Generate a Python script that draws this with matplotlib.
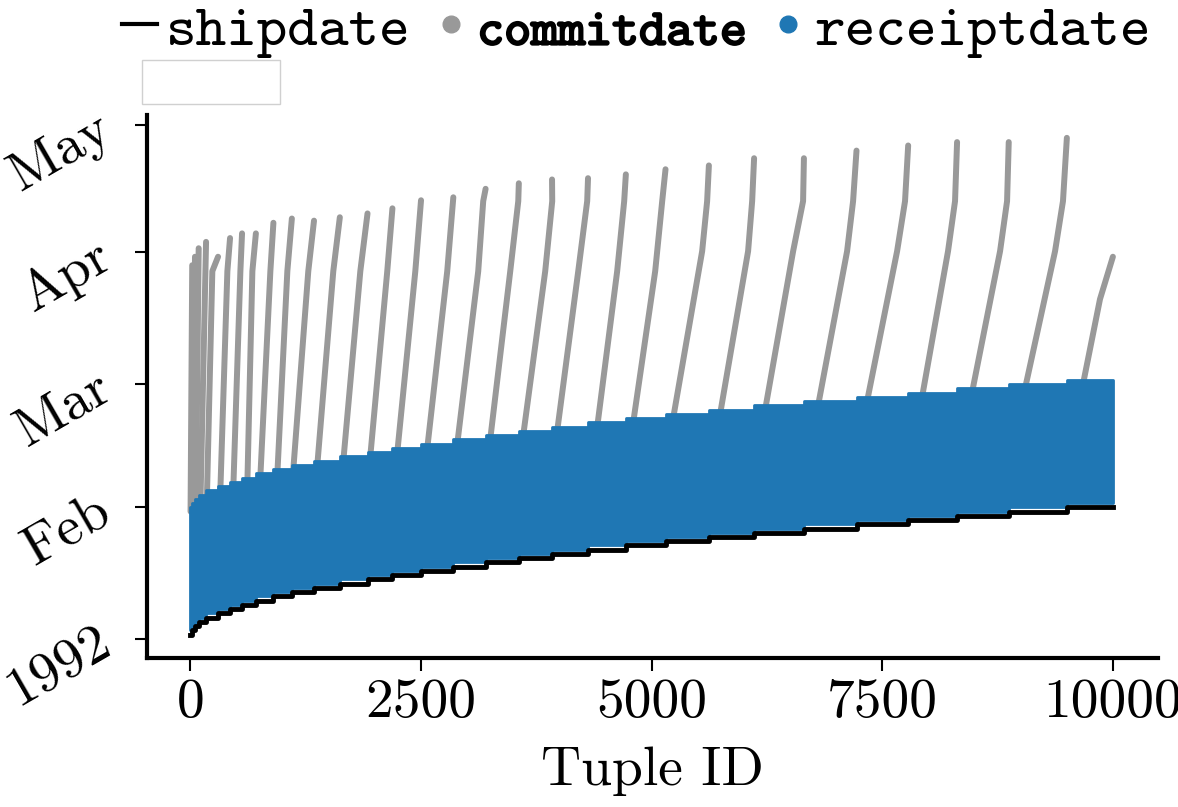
import numpy as np
import matplotlib
matplotlib.use('Agg')
import matplotlib.pyplot as plt
import matplotlib.dates as mdates
from matplotlib.lines import Line2D
from matplotlib.patches import Rectangle
from matplotlib import patheffects as pe

plt.rcParams['font.family'] = 'cmr10'
plt.rcParams['axes.formatter.use_mathtext'] = True
plt.rcParams['mathtext.fontset'] = 'cm'

# tuples are sorted by shipdate: first tuple id of every shipdate day
ship_start = [0, 20, 50, 90, 170, 300, 430, 560, 710, 900, 1100, 1340, 1620, 1920,
              2190, 2500, 2850, 3200, 3560, 3920, 4310, 4720, 5150, 5620, 6110,
              6650, 7220, 7780, 8310, 8870, 9500]
# shipdate of each block, in days after 1992-01-01
ship_day = [1, 2, 3, 4, 5, 6, 7, 8, 9, 10, 11, 12, 13, 14, 15, 16, 17, 18, 19, 20,
            21, 22, 23, 24, 25, 26, 27, 28, 29, 30, 31]
last_tuple = 9999

# receiptdate spread between shipdate+1 and shipdate+30
receipt_lo = 1
receipt_hi = 30

# commitdate streaks (one per shipdate block)
commit_blue_x = [2, 30, 60, 110, 180, 325, 466, 618, 758, 943, 1116, 1376, 1658,
                 1950, 2243, 2568, 2893, 3250, 3608, 3976, 4410, 4800, 5233, 5742,
                 6230, 6804, 7335, 7931, 8472, 9047, 9675]
commit_mid_x = [np.nan, np.nan, np.nan, np.nan, 238, 401, 542, 672, 867, 1051, 1278,
                1549, 1842, 2134, 2438, 2784, 3120, 3467, 3846, 4204, 4626, 5038,
                5547, 6045, 6533, 7118, 7660, 8212, 8776, 9372, 9859]
commit_mid_day = [86.6] * 22 + [91.3] * 8 + [80]
commit_knee_x = [np.nan] * 16 + [3174, 3554, 3922, 4301, 4702, 5114, 5601, 6089,
                                 6641, 7183, 7746, 8288, 8852, 9458, np.nan]
commit_knee_day = 103.1
commit_top_day = [88, 90, 92, 93.5, 90, 94.4, 95.5, 95.5, 98, 99, 98.5, 99.3, 100.2,
                  101.4, 103.3, 104, 106, 107.3, 108.2, 108.5, 109.4, 110.6, 111.5,
                  113.2, 113.2, 115, 116.2, 117, 117, 118, 90]

tuple_ticks = [0, 2500, 5000, 7500, 10000]
month_ticks = ['1992-01-01', '1992-02-01', '1992-03-01', '1992-04-01', '1992-05-01']
month_labels = ['1992', 'Feb', 'Mar', 'Apr', 'May']

base = mdates.date2num(np.datetime64('1992-01-01'))
gray = '#999999'
blue = '#1f77b4'

fig = plt.figure(figsize=(11.78, 8.07), dpi=100)
ax = fig.add_axes([0.1248, 0.1846, 0.858, 0.673])

# shipdate staircase
xs = np.array(ship_start + [last_tuple])
sd = np.array(ship_day + [ship_day[-1]], dtype=float) + base
ax.step(xs, sd, where='post', color='k', lw=3.5, zorder=4)

# commitdate streaks
ends = ship_start[1:] + [last_tuple]
for i in range(len(ship_start)):
    px = [commit_blue_x[i], commit_mid_x[i], commit_knee_x[i], ends[i]]
    py = [ship_day[i] + receipt_hi - 1, commit_mid_day[i], commit_knee_day,
          commit_top_day[i]]
    pts = [(a, b) for a, b in zip(px, py) if not np.isnan(a) and b <= commit_top_day[i]]
    ax.plot([p[0] for p in pts], [p[1] + base for p in pts], color=gray, lw=4.3,
            solid_capstyle='round', solid_joinstyle='round', zorder=2)

# receiptdate band
ax.fill_between(xs, sd + receipt_lo, sd + receipt_hi, step='post', color=blue,
                ec=blue, lw=2, zorder=3)

ax.set_xlim(-470, 10485)
ax.set_ylim(base - 4.5, base + 123.4)
ax.set_xticks(tuple_ticks)
ax.set_xticklabels([str(t) for t in tuple_ticks])
ax.set_yticks([mdates.date2num(np.datetime64(m)) for m in month_ticks])
ax.set_yticklabels(month_labels, rotation=30, ha='right', va='center',
                   rotation_mode='anchor')
ax.tick_params(labelsize=40, length=9, width=1.5, pad=6)
ax.tick_params(axis='y', pad=20)
for s in ['top', 'right']:
    ax.spines[s].set_visible(False)
for s in ['left', 'bottom']:
    ax.spines[s].set_linewidth(3)
ax.set_xlabel('Tuple ID', fontsize=40, labelpad=13)

handles = [Line2D([], [], color='k', lw=3),
           Line2D([], [], ls='', marker='o', color=gray, ms=12),
           Line2D([], [], ls='', marker='o', color=blue, ms=12)]
leg = fig.legend(handles, ['shipdate', 'commitdate', 'receiptdate'], loc='center',
                 bbox_to_anchor=(0.54, 0.962), ncol=3, frameon=False,
                 handlelength=0.6, handletextpad=0.15, columnspacing=0.4,
                 prop={'family': 'cmtt10', 'size': 42})
t = leg.get_texts()[1]
t.set_fontsize(37)
t.set_path_effects([pe.withStroke(linewidth=1.5, foreground='k')])

# empty box under the legend
fig.patches.append(Rectangle((0.1205, 0.871), 0.117, 0.0545, transform=fig.transFigure,
                             fill=False, ec='#d0d0d0', lw=1))

fig.savefig('out.png', dpi=100)
